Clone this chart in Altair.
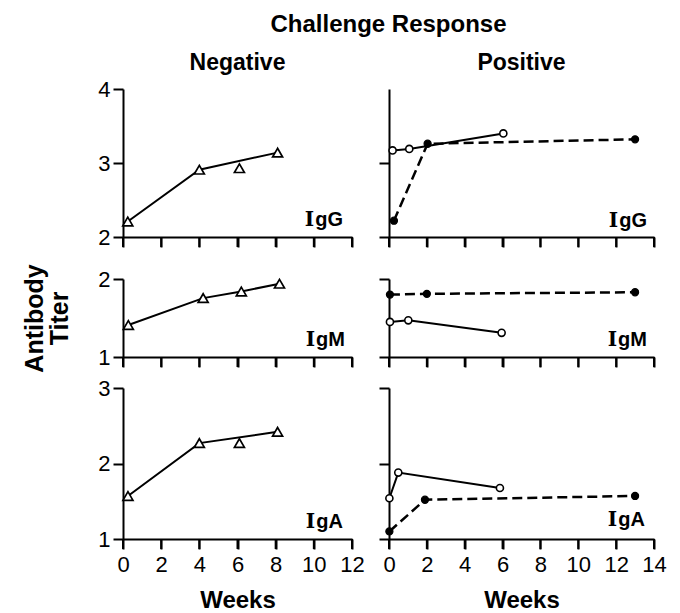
import altair as alt
import pandas as pd

FONT = "Liberation Sans"

# ---------------- data ----------------
# Negative challenge response (open triangles, solid line)
neg_igg_weeks = [0.25, 4.0, 6.1, 8.1]
neg_igg_titer = [2.21, 2.91, 2.93, 3.14]
neg_igg_joined = [True, True, False, True]

neg_igm_weeks = [0.28, 4.2, 6.2, 8.2]
neg_igm_titer = [1.41, 1.755, 1.84, 1.94]
neg_igm_joined = [True, True, True, True]

neg_iga_weeks = [0.26, 4.0, 6.1, 8.1]
neg_iga_titer = [1.57, 2.27, 2.27, 2.42]
neg_iga_joined = [True, True, False, True]

# Positive challenge response: open circles (solid), filled circles (dashed)
pos_igg_open_weeks = [0.19, 1.07, 6.04]
pos_igg_open_titer = [3.17, 3.19, 3.40]
pos_igg_filled_weeks = [0.26, 2.04, 13.0]
pos_igg_filled_titer = [2.22, 3.26, 3.32]

pos_igm_open_weeks = [0.05, 1.02, 5.95]
pos_igm_open_titer = [1.45, 1.47, 1.31]
pos_igm_filled_weeks = [0.05, 2.0, 13.0]
pos_igm_filled_titer = [1.80, 1.81, 1.83]

pos_iga_open_weeks = [0.02, 0.49, 5.86]
pos_iga_open_titer = [1.54, 1.88, 1.675]
pos_iga_filled_weeks = [0.02, 1.9, 13.0]
pos_iga_filled_titer = [1.10, 1.52, 1.57]

neg_xmax = 12
pos_xmax = 14
neg_week_ticks = [0, 2, 4, 6, 8, 10, 12]
pos_week_ticks = [0, 2, 4, 6, 8, 10, 12, 14]
igg_domain = [2, 4]
igm_domain = [1, 2]
iga_domain = [1, 3]
igg_ticks_right = [2, 3]   # the right IgG axis shows no tick at 4

main_title = "Challenge Response"
col_titles = ["Negative", "Positive"]
x_title = "Weeks"
y_title = ["Antibody", "Titer"]
# class label: serif "I" + sans rest
tags = {"IgG": ("I", "gG"), "IgM": ("I", "gM"), "IgA": ("I", "gA")}
tag_rest_width = {"gG": 28, "gM": 29, "gA": 27}

# ---------------- layout ----------------
W_L, W_R = 229, 265
GAP_X = 37
H1, H2, H3 = 148, 78, 151
TICK = 10


def neg_df(weeks, titer, joined):
    return pd.DataFrame({"week": weeks, "titer": titer, "style": "tri", "joined": joined})


def pos_df(ow, ot, fw, ft):
    a = pd.DataFrame({"week": ow, "titer": ot, "style": "open", "joined": True})
    b = pd.DataFrame({"week": fw, "titer": ft, "style": "filled", "joined": True})
    return pd.concat([a, b], ignore_index=True)


def text_layer(txt, x, y, size, align="center", font=FONT, weight="bold"):
    d = pd.DataFrame({"t": [txt]})
    return alt.Chart(d).mark_text(align=align, baseline="alphabetic", font=font,
                                  fontSize=size, fontWeight=weight, color="black").encode(
        x=alt.value(x), y=alt.value(y), text="t:N")


def panel(df, xmax, xticks, ydom, width, height, left, bottom, tag, tag_x, tag_y,
          heads=(), ytitle=None, yvalues=None):
    common = dict(domainColor="black", domainWidth=2, tickColor="black", tickWidth=2,
                  tickSize=TICK, ticks=True, tickOpacity=1, grid=False, labelFont=FONT,
                  labelFontSize=22, labelColor="black", labelFlush=False,
                  labelOverlap=False, format="d", titleFont=FONT,
                  titleColor="black", titleFontWeight="bold", titleFontSize=24)
    xaxis = dict(common, tickCount=len(xticks) - 1, labels=bottom, labelPadding=5)
    if bottom:
        xaxis.update(title=x_title, titlePadding=13)
    else:
        xaxis.update(title=None)
    yaxis = dict(common, labels=left, labelPadding=3)
    if yvalues is not None:
        yaxis.update(values=yvalues)
    else:
        yaxis.update(tickCount=ydom[1] - ydom[0])
    if ytitle is not None:
        yaxis.update(title=ytitle, titleFontSize=25, titleLineHeight=25,
                     titlePadding=25, titleAngle=270)
    else:
        yaxis.update(title=None)

    xenc = alt.X("week:Q", scale=alt.Scale(domain=[0, xmax], nice=False, zero=False),
                 axis=alt.Axis(**xaxis))
    base = alt.Chart(df).encode(
        x=xenc,
        y=alt.Y("titer:Q", scale=alt.Scale(domain=ydom, nice=False, zero=False),
                axis=alt.Axis(**yaxis)),
    )
    # tick marks under the week axis, at the week tick values
    tick_rules = alt.Chart(pd.DataFrame({"week": xticks})).mark_rule(
        color="black", strokeWidth=2).encode(
        x=xenc, y=alt.value(height), y2=alt.value(height + TICK))
    solid = base.transform_filter("datum.style != 'filled' && datum.joined").mark_line(
        color="black", strokeWidth=2).encode(detail="style:N")
    dashed = base.transform_filter("datum.style == 'filled'").mark_line(
        color="black", strokeWidth=2.5, strokeDash=[10, 5])
    tri = base.transform_filter("datum.style == 'tri'").mark_point(
        shape="triangle-up", size=100, filled=True, fill="white", stroke="black",
        strokeWidth=1.7, opacity=1)
    openc = base.transform_filter("datum.style == 'open'").mark_point(
        shape="circle", size=50, filled=True, fill="white", stroke="black",
        strokeWidth=1.6, opacity=1)
    filledc = base.transform_filter("datum.style == 'filled'").mark_point(
        shape="circle", size=50, filled=True, fill="black", stroke="black",
        strokeWidth=1.2, opacity=1)

    first, rest = tags[tag]
    layers = [solid, dashed, tri, openc, filledc, tick_rules,
              text_layer(rest, tag_x, tag_y, 20, align="right"),
              text_layer(first, tag_x - tag_rest_width[rest] - 1, tag_y, 20,
                         align="right", font="DejaVu Serif")]
    for (txt, hx, hy, hs) in heads:
        layers.append(text_layer(txt, hx, hy, hs))
    return alt.layer(*layers).properties(width=width, height=height)


p11 = panel(neg_df(neg_igg_weeks, neg_igg_titer, neg_igg_joined), neg_xmax, neg_week_ticks,
            igg_domain, W_L, H1, True, False, "IgG", 220, 137,
            heads=[(col_titles[0], W_L / 2, -19, 23),
                   (main_title, (W_L + GAP_X + W_R) / 2, -57, 24)])
p12 = panel(pos_df(pos_igg_open_weeks, pos_igg_open_titer, pos_igg_filled_weeks,
                   pos_igg_filled_titer), pos_xmax, pos_week_ticks, igg_domain, W_R, H1,
            False, False, "IgG", 258, 138, heads=[(col_titles[1], W_R / 2, -19, 23)],
            yvalues=igg_ticks_right)
p21 = panel(neg_df(neg_igm_weeks, neg_igm_titer, neg_igm_joined), neg_xmax, neg_week_ticks,
            igm_domain, W_L, H2, True, False, "IgM", 222, 67, ytitle=y_title)
p22 = panel(pos_df(pos_igm_open_weeks, pos_igm_open_titer, pos_igm_filled_weeks,
                   pos_igm_filled_titer), pos_xmax, pos_week_ticks, igm_domain, W_R, H2,
            False, False, "IgM", 258, 67)
p31 = panel(neg_df(neg_iga_weeks, neg_iga_titer, neg_iga_joined), neg_xmax, neg_week_ticks,
            iga_domain, W_L, H3, True, True, "IgA", 220, 140)
p32 = panel(pos_df(pos_iga_open_weeks, pos_iga_open_titer, pos_iga_filled_weeks,
                   pos_iga_filled_titer), pos_xmax, pos_week_ticks, iga_domain, W_R, H3,
            False, True, "IgA", 256, 138)


def row(a, b):
    return alt.hconcat(a, b, spacing=GAP_X, bounds="flush").resolve_scale(
        x="independent", y="independent")


upper = alt.vconcat(row(p11, p12), row(p21, p22), spacing=15).resolve_scale(
    x="independent", y="independent")

chart = alt.vconcat(upper, row(p31, p32), spacing=4).resolve_scale(
    x="independent", y="independent"
).properties(
    padding={"left": 14, "top": 5, "right": 5, "bottom": 0},
).configure(font=FONT).configure_view(stroke=None, strokeWidth=0)

chart.save("out.html", embed_options={"renderer": "svg", "actions": False})
